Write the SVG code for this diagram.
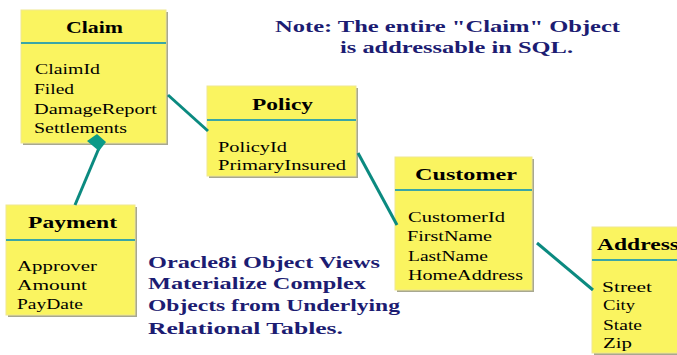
<svg xmlns="http://www.w3.org/2000/svg" width="677" height="355" viewBox="0 0 677 355" font-family="Liberation Serif, DejaVu Serif, serif">
<style>
.box{fill:#faf460;stroke:#f0e890;stroke-width:1}
.shadow{fill:#a8a890}
.sep{stroke:#3aa6a6;stroke-width:2}
.title{font-weight:bold;font-size:17px;fill:#000}
.attr{font-size:14px;fill:#000}
.note{font-weight:bold;font-size:16px;fill:#1c1c72}
.conn{stroke:#0b8a80;stroke-width:3;fill:none}
</style>
<rect width="677" height="355" fill="#ffffff"/>
<g id="claim">
<rect class="shadow" x="23" y="12" width="145" height="133"/>
<rect class="box" x="21" y="10" width="145" height="133"/>
<line class="sep" x1="21" y1="43" x2="166" y2="43"/>
<text class="title" x="66" y="33" textLength="57" lengthAdjust="spacingAndGlyphs">Claim</text>
<text class="attr" x="35" y="74" textLength="65" lengthAdjust="spacingAndGlyphs">ClaimId</text>
<text class="attr" x="34" y="94" textLength="40" lengthAdjust="spacingAndGlyphs">Filed</text>
<text class="attr" x="34" y="114" textLength="123" lengthAdjust="spacingAndGlyphs">DamageReport</text>
<text class="attr" x="34" y="133" textLength="93" lengthAdjust="spacingAndGlyphs">Settlements</text>
</g>
<g id="policy">
<rect class="shadow" x="209" y="88" width="149" height="90"/>
<rect class="box" x="207" y="86" width="149" height="90"/>
<line class="sep" x1="207" y1="120" x2="356" y2="120"/>
<text class="title" x="252" y="110" textLength="61" lengthAdjust="spacingAndGlyphs">Policy</text>
<text class="attr" x="218" y="152" textLength="69" lengthAdjust="spacingAndGlyphs">PolicyId</text>
<text class="attr" x="218" y="170" textLength="128" lengthAdjust="spacingAndGlyphs">PrimaryInsured</text>
</g>
<g id="customer">
<rect class="shadow" x="397" y="159" width="137" height="133"/>
<rect class="box" x="395" y="157" width="137" height="133"/>
<line class="sep" x1="395" y1="190" x2="532" y2="190"/>
<text class="title" x="415" y="180" textLength="102" lengthAdjust="spacingAndGlyphs">Customer</text>
<text class="attr" x="408" y="222" textLength="97" lengthAdjust="spacingAndGlyphs">CustomerId</text>
<text class="attr" x="407" y="241" textLength="85" lengthAdjust="spacingAndGlyphs">FirstName</text>
<text class="attr" x="408" y="261" textLength="80" lengthAdjust="spacingAndGlyphs">LastName</text>
<text class="attr" x="408" y="280" textLength="115" lengthAdjust="spacingAndGlyphs">HomeAddress</text>
</g>
<g id="address">
<rect class="shadow" x="594" y="229" width="90" height="126"/>
<rect class="box" x="592" y="227" width="90" height="126"/>
<line class="sep" x1="592" y1="260" x2="677" y2="260"/>
<text class="title" x="597" y="250" textLength="82" lengthAdjust="spacingAndGlyphs">Address</text>
<text class="attr" x="602" y="292" textLength="50" lengthAdjust="spacingAndGlyphs">Street</text>
<text class="attr" x="603" y="310" textLength="32" lengthAdjust="spacingAndGlyphs">City</text>
<text class="attr" x="603" y="330" textLength="39" lengthAdjust="spacingAndGlyphs">State</text>
<text class="attr" x="603" y="348" textLength="29" lengthAdjust="spacingAndGlyphs">Zip</text>
</g>
<g id="payment">
<rect class="shadow" x="8" y="207" width="129" height="110"/>
<rect class="box" x="6" y="205" width="129" height="110"/>
<line class="sep" x1="6" y1="240" x2="135" y2="240"/>
<text class="title" x="28" y="228" textLength="89" lengthAdjust="spacingAndGlyphs">Payment</text>
<text class="attr" x="17" y="271" textLength="80" lengthAdjust="spacingAndGlyphs">Approver</text>
<text class="attr" x="17" y="290" textLength="70" lengthAdjust="spacingAndGlyphs">Amount</text>
<text class="attr" x="17" y="309" textLength="66" lengthAdjust="spacingAndGlyphs">PayDate</text>
</g>
<g id="notes">
<text class="note" x="275" y="32" textLength="345" lengthAdjust="spacingAndGlyphs">Note: The entire "Claim" Object</text>
<text class="note" x="340" y="53" textLength="233" lengthAdjust="spacingAndGlyphs">is addressable in SQL.</text>
<text class="note" x="148" y="268" textLength="232" lengthAdjust="spacingAndGlyphs">Oracle8i Object Views</text>
<text class="note" x="148" y="289" textLength="218" lengthAdjust="spacingAndGlyphs">Materialize Complex</text>
<text class="note" x="148" y="311" textLength="252" lengthAdjust="spacingAndGlyphs">Objects from Underlying</text>
<text class="note" x="148" y="334" textLength="195" lengthAdjust="spacingAndGlyphs">Relational Tables.</text>
</g>
<g id="connectors">
<line class="conn" x1="168" y1="95" x2="208" y2="131"/>
<line class="conn" x1="358" y1="153" x2="397" y2="225"/>
<line class="conn" x1="537" y1="243" x2="593" y2="290"/>
<line class="conn" x1="99" y1="148" x2="75" y2="205"/>
<polygon points="97,134 106,142 99,151 87,141" fill="#0b9a88"/>
</g>
</svg>
